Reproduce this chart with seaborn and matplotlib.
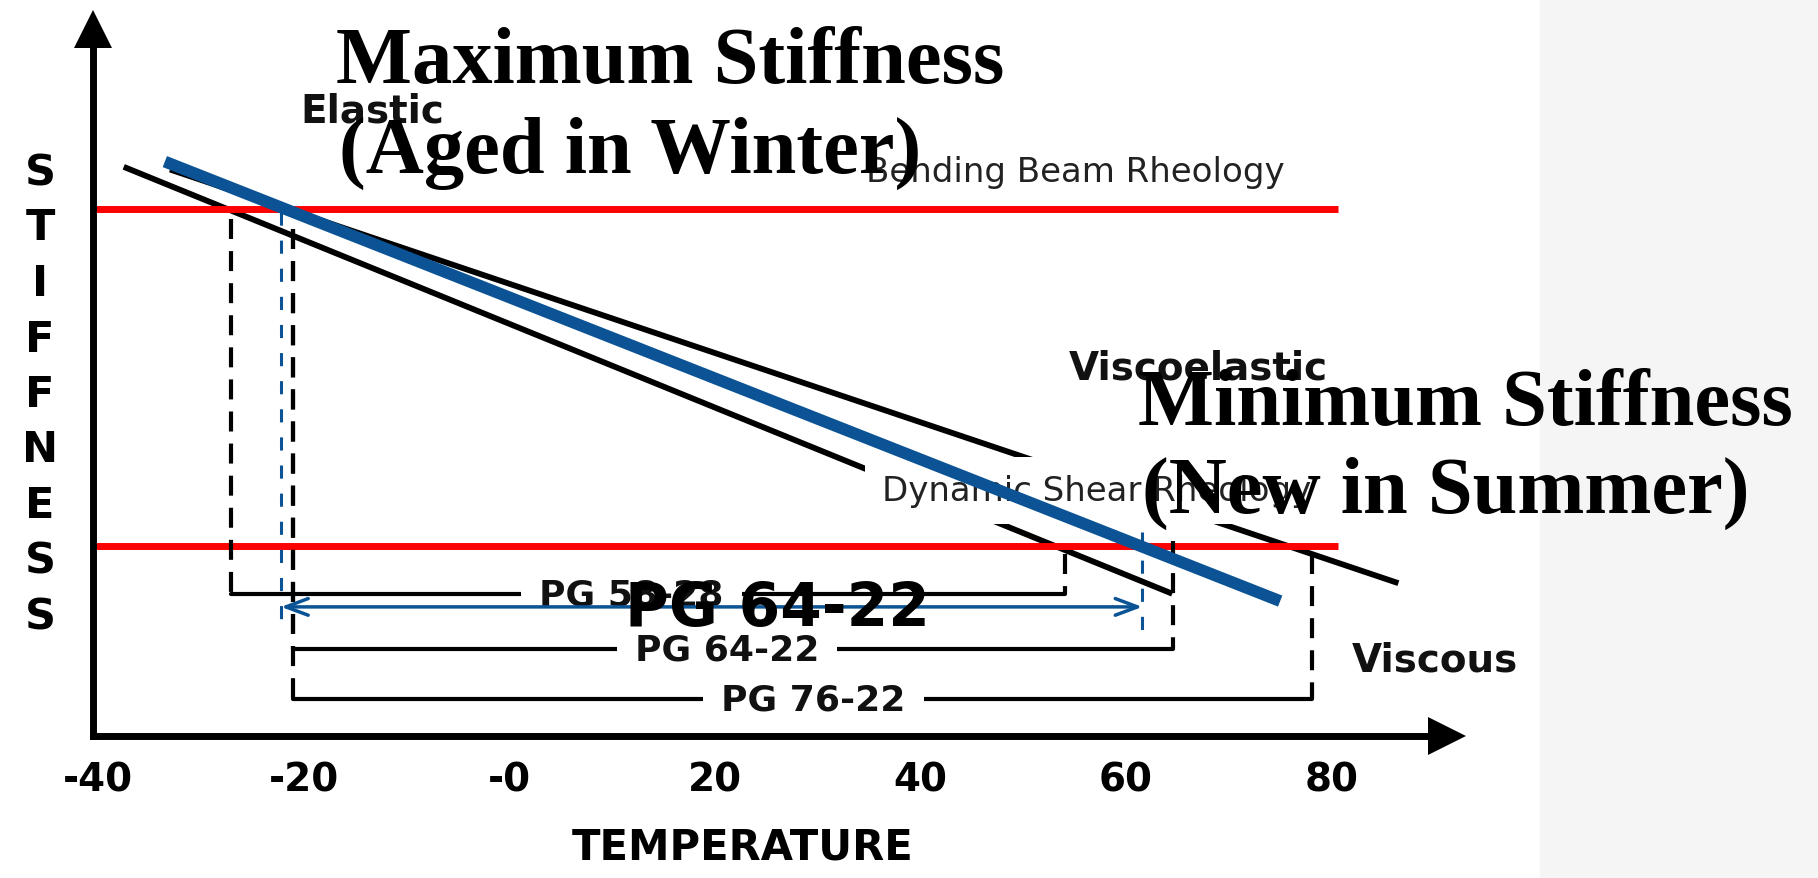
import numpy as np
import pandas as pd
import matplotlib
matplotlib.use("Agg")
import matplotlib.pyplot as plt
import seaborn as sns
from matplotlib.patches import Rectangle

# temperature axis
tick_temps  = [-40, -20, 0, 20, 40, 60, 80]
tick_labels = ["-40", "-20", "-0", "20", "40", "60", "80"]

# stiffness vs temperature lines (end points)
binders    = ["PG 58-28", "PG 76-22", "PG 64-22"]
line_temps = [[-37.5, 64.5], [-33.0, 86.5], [-33.5, 75.0]]
line_stiff = [[108.0, 27.0], [107.5, 29.0], [109.0, 25.6]]

# specification limits (red lines)
bbr_limit = 100.0
dsr_limit = 36.0
limit_temps = [-40.5, 80.6]

# grade brackets
grade_names    = ["PG 58-28", "PG 64-22", "PG 76-22"]
grade_low      = [-27.1, -21.0, -21.0]
grade_high     = [54.1, 64.6, 78.1]
grade_bar      = [26.9, 16.5, 7.0]
grade_low_top  = [98.1, 96.2, 96.2]
grade_high_top = [34.5, 37.0, 34.5]
grade_label_t  = [11.9, 21.2, 29.6]

# blue PG 64-22 read-out
blue_temps   = [-22.2, 61.6]
blue_tops    = [99.4, 38.7]
blue_bottom  = 19.7
blue_arrow_s = 24.5

blue = "#0b5394"

sns.set_theme(style="white")
plt.rcParams["font.family"] = ["DejaVu Sans"]
plt.rcParams["text.color"] = "black"
plt.rcParams["axes.labelcolor"] = "black"
plt.rcParams["xtick.color"] = "black"

fig = plt.figure(figsize=(18.18, 8.79), dpi=100)
fig.patches.append(Rectangle((1540 / 1818, 0), 1 - 1540 / 1818, 1,
                             transform=fig.transFigure, color="#f5f5f5", zorder=-1))
ax = fig.add_axes([93 / 1818, 142 / 879, 1354 / 1818, 707 / 879])
ax.set_facecolor("none")

# slanted stiffness lines
rows = []
for name, ts, ss in zip(binders, line_temps, line_stiff):
    for t, s in zip(ts, ss):
        rows.append({"binder": name, "temp": t, "stiffness": s})
df = pd.DataFrame(rows)
sns.lineplot(data=df, x="temp", y="stiffness", hue="binder", size="binder",
             hue_order=binders, size_order=binders,
             palette={"PG 58-28": "black", "PG 76-22": "black", "PG 64-22": blue},
             sizes={"PG 58-28": 4.2, "PG 76-22": 4.2, "PG 64-22": 8.5},
             legend=False, sort=False, ax=ax)
for i, ln in enumerate(ax.lines):
    ln.set_solid_capstyle("butt")
    ln.set_zorder(6 if i == 2 else 2)

# red limit lines
ax.hlines([bbr_limit, dsr_limit], limit_temps[0], limit_temps[1],
          color="red", lw=5, zorder=3)

# grade brackets
dash_k = (0, (4.8, 2.9))
for name, lo, hi, bar, lt, ht, lt_x in zip(grade_names, grade_low, grade_high, grade_bar,
                                          grade_low_top, grade_high_top, grade_label_t):
    ax.plot([lo, lo], [lt, bar], color="black", lw=3, ls=dash_k, zorder=4.5)
    ax.plot([hi, hi], [ht, bar], color="black", lw=3, ls=dash_k, zorder=4.5)
    ax.plot([lo, hi], [bar, bar], color="black", lw=3, zorder=4.5)
    ax.text(lt_x, bar, name, ha="center", va="center", fontsize=26, fontweight="bold",
            color="#111111", zorder=5,
            bbox=dict(boxstyle="square,pad=0.5", fc="white", ec="none"))

# blue read-out
for t, top in zip(blue_temps, blue_tops):
    ax.plot([t, t], [top, blue_bottom], color=blue, lw=2.2, ls=(0, (4.3, 4.9)), zorder=7)
ax.annotate("", xy=(blue_temps[0], blue_arrow_s), xytext=(blue_temps[1], blue_arrow_s),
            arrowprops=dict(arrowstyle="<->,head_length=0.8,head_width=0.3",
                            color=blue, lw=2.5, mutation_scale=20, shrinkA=0, shrinkB=0),
            zorder=7)

# region labels
ax.text(36.3, 46.5, "Dynamic Shear Rheology", fontsize=24.5, color="#222222",
        ha="left", va="center", zorder=4,
        bbox=dict(boxstyle="square,pad=0.5", fc="white", ec="none"))
ax.text(34.7, 107.2, "Bending Beam Rheology", fontsize=24.5, color="#222222",
        ha="left", va="center", zorder=4)
ax.text(-20.35, 118.6, "Elastic", fontsize=28, fontweight="bold", color="#111111",
        ha="left", va="center", zorder=5)
ax.text(54.4, 70.0, "Viscoelastic", fontsize=28, fontweight="bold", color="#111111",
        ha="left", va="center", zorder=5)
ax.text(82.0, 14.6, "Viscous", fontsize=28, fontweight="bold", color="#111111",
        ha="left", va="center", zorder=5)

ax.text(26.1, 24.1, "PG 64-22", fontsize=43, fontweight="bold", color="black",
        ha="center", va="center", zorder=8)

serif = dict(fontsize=58, fontweight="bold", color="black", family="Liberation Serif",
             ha="left", va="baseline", zorder=9)
ax.text(-16.85, 124.1, "Maximum Stiffness", **serif)
ax.text(-16.6, 107.0, "(Aged in Winter)", **serif)
ax.text(61.2, 59.2, "Minimum Stiffness", **serif)
ax.text(61.6, 42.5, "(New in Summer)", **serif)

# axes with arrow heads
ax.set_xlim(-40.49, 91.23)
ax.set_ylim(0, 134.16)
sns.despine(ax=ax, top=True, right=True)
for side in ["left", "bottom"]:
    ax.spines[side].set_linewidth(5)
    ax.spines[side].set_color("black")
    ax.spines[side].set_zorder(10)
ax.plot(1, 0, ">", color="black", ms=27, mew=0, transform=ax.transAxes,
        clip_on=False, zorder=10)
ax.plot(0, 1, "^", color="black", ms=27, mew=0, transform=ax.transAxes,
        clip_on=False, zorder=10)

ax.set_xticks(tick_temps, tick_labels)
ax.set_yticks([])
ax.tick_params(axis="x", length=0, pad=18, labelsize=28, labelcolor="black")
for lbl in ax.get_xticklabels():
    lbl.set_fontweight("bold")
ax.set_xlabel("TEMPERATURE", fontsize=30, fontweight="bold", color="black")
ax.xaxis.set_label_coords((743 - 93) / 1354, (737 - 848) / 707)
ax.xaxis.label.set_va("center")
ax.set_ylabel("")

# vertical STIFFNESS label, one letter per row
for i, ch in enumerate("STIFFNESS"):
    ax.text((40 - 93) / 1354, (737 - (173 + i * 55.5)) / 707, ch, transform=ax.transAxes,
            fontsize=31, fontweight="bold", color="black", ha="center", va="center")

fig.savefig("out.png", dpi=100)
